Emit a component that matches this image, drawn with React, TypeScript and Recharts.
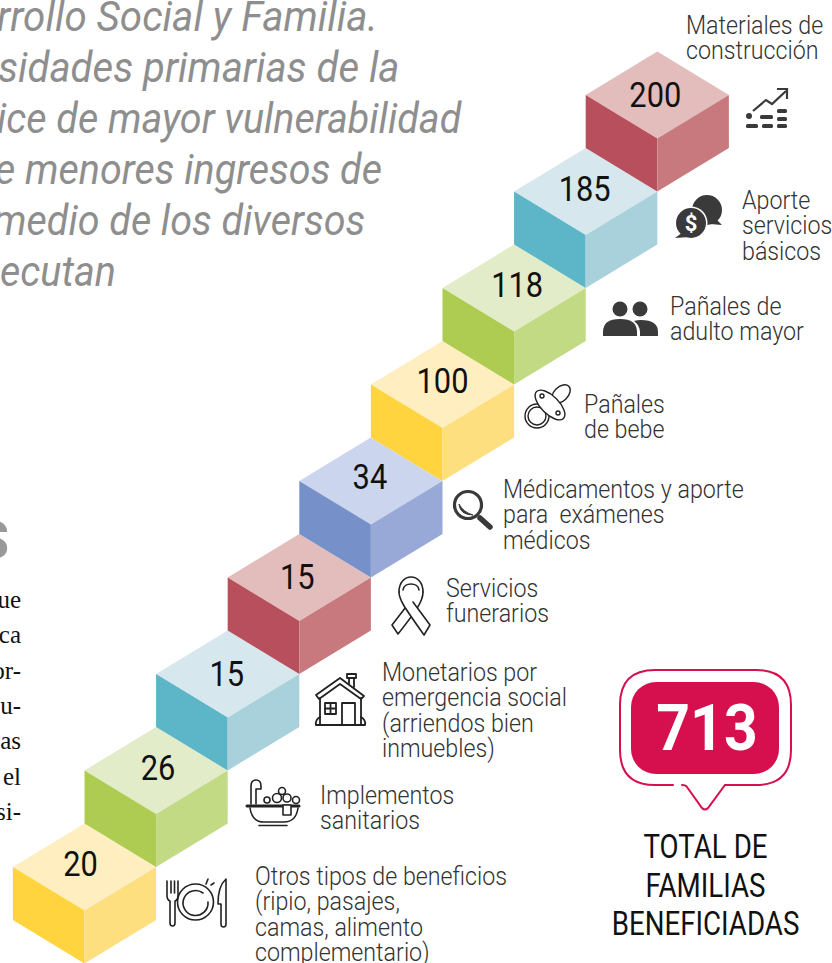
import React from 'react';
import { ScatterChart, Scatter, XAxis, YAxis } from 'recharts';

// bottom step first
const categories = [
  ['Otros tipos de beneficios', '(ripio, pasajes,', 'camas, alimento', 'complementario)'],
  ['Implementos', 'sanitarios'],
  ['Monetarios por', 'emergencia social', '(arriendos bien', 'inmuebles)'],
  ['Servicios', 'funerarios'],
  ['Médicamentos y aporte', 'para  exámenes', 'médicos'],
  ['Pañales', 'de bebe'],
  ['Pañales de', 'adulto mayor'],
  ['Aporte', 'servicios', 'básicos'],
  ['Materiales de', 'construcción'],
];
const values = [20, 26, 15, 15, 34, 100, 118, 185, 200];
const totalValue = '713';
const totalLabel = ['TOTAL DE', 'FAMILIAS', 'BENEFICIADAS'];

const headingLines = [
  'rrollo Social y Familia.',
  'sidades primarias de la',
  'ice de mayor vulnerabilidad',
  'e menores ingresos de',
  'medio de los diversos',
  'ecutan',
];
const bodyLineEnds = ['ue', 'ca', 'or-', 'u-', 'as', 'el', 'si-'];

const chartData = values.map((value, i) => ({ step: i, level: i, value, lines: categories[i] }));

const W = 832;
const H = 963;
const HALF_W = 71.6;
const HALF_H = 43.5;
const DEPTH = 53;

const yellow = { top: '#FEEEC0', left: '#FFD43F', right: '#FEDF7F' };
const green = { top: '#E2ECC8', left: '#AECC52', right: '#C3DA85' };
const teal = { top: '#D6E8EE', left: '#5CB6C8', right: '#A8D1DC' };
const red = { top: '#E3BCBC', left: '#B84F5D', right: '#C7797D' };
const blue = { top: '#CCD5EE', left: '#7690C9', right: '#98A9D7' };
const palette = [yellow, green, teal, red, blue, yellow, green, teal, red];

const numberDx = [-4, 2, -1, -2, -1, 0, 3, -1, -2];
const numberDy = [9, 10, 12, 12, 8, 9, 9, 10, 12];
const labelX = [255, 320, 382, 446, 503, 584, 670, 742, 686];
const labelY = [885, 804, 681, 597, 498, 413, 315, 209, 34];
const headingX = [-3, -2, -3, -5, -7, 0];
const headingSx = [0.96, 0.955, 0.94, 0.94, 0.94, 0.94];

const FONT = 'Roboto, sans-serif';
const INK = '#333333';
const ICON = '#3a3a3a';

function Squeezed({ x, y, sx = 0.93, anchor = 'start', children, ...rest }: any) {
  return (
    <text
      transform={`translate(${x} ${y}) scale(${sx} 1)`}
      textAnchor={anchor}
      fontFamily={FONT}
      style={{ whiteSpace: 'pre' }}
      {...rest}
    >
      {children}
    </text>
  );
}

function Cube(props: any) {
  const { cx, cy, payload } = props;
  const i = payload.step;
  const c = palette[i];
  const pts = (arr: number[][]) => arr.map((p) => p.join(',')).join(' ');
  return (
    <g>
      <polygon
        fill={c.top}
        points={pts([[cx - HALF_W, cy], [cx, cy - HALF_H], [cx + HALF_W, cy], [cx, cy + HALF_H]])}
      />
      <polygon
        fill={c.left}
        points={pts([[cx - HALF_W, cy], [cx, cy + HALF_H], [cx, cy + HALF_H + DEPTH], [cx - HALF_W, cy + DEPTH]])}
      />
      <polygon
        fill={c.right}
        points={pts([[cx + HALF_W, cy], [cx, cy + HALF_H], [cx, cy + HALF_H + DEPTH], [cx + HALF_W, cy + DEPTH]])}
      />
      <Squeezed x={cx + numberDx[i]} y={cy + numberDy[i]} anchor="middle" sx={0.88} fontSize={35} fill="#111">
        {payload.value}
      </Squeezed>
      {payload.lines.map((line: string, n: number) => (
        <Squeezed key={n} x={labelX[i]} y={labelY[i] + n * 25.3} fontSize={25} fontWeight={300} fill={INK}>
          {line}
        </Squeezed>
      ))}
    </g>
  );
}

function Icons() {
  const thin = { fill: 'none', stroke: '#222', strokeWidth: 1.6, strokeLinecap: 'round' as const, strokeLinejoin: 'round' as const };
  return (
    <g>
      {/* plate */}
      <g {...thin}>
        <path d="M167 881v14q0 5 3 6v22q0 3 2.5 3t2.5-3v-22q3-1 3-6v-14M171 881v12M174.500 881v12" />
        <circle cx={195.500} cy={902} r={18} />
        <path d="M203 893A12.500 12.500 0 1 0 208 902" />
        <path d="M206 884l2-5M211 885l3-2" />
        <path d="M226 879q-8 7-8 25h3v20q0 3 2.500 3t2.500-3z" />
      </g>
      {/* tub */}
      <g {...thin}>
        <path d="M251 804v-18q0-6 5-6t5 6v3h-5v15" />
        <circle cx={282} cy={791} r={3.500} />
        <circle cx={277} cy={798} r={4.500} />
        <circle cx={267} cy={800} r={3} />
        <circle cx={287} cy={798} r={4} />
        <circle cx={296} cy={800} r={3.500} />
        <path d="M247 806h52" strokeWidth={3} />
        <path d="M250 808q2 14 14 14h20q12 0 14-14M259 825.500h28" />
        <rect x={283} y={805} width={8} height={10} fill="#fff" />
      </g>
      {/* house */}
      <g {...thin} strokeWidth={1.8}>
        <path d="M316 695L340 678L364 696L361 699L340 684L319 699Z" />
        <path d="M320 698V725H361V698" />
        <path d="M342 725V703H355V725" />
        <rect x={325} y={703} width={11} height={11} />
        <path d="M330.500 703v11M325 708.500h11" />
        <path d="M347 674h9v4h-9zM349 678v6M354 678v9" />
        <path d="M320 717q-5 3-4 8h4M361 717q5 3 4 8h-4" />
      </g>
      {/* ribbon */}
      <g {...thin} fill="#fff">
        <path d="M423 592C423 601 417 610 398 634L392 625L409 603" />
        <path d="M399 592C399 600 405 608 424 635L430 625L413 602" />
        <path d="M399 592C399 572 423 572 423 592M403 590C404 582 418 582 419 590" fill="none" />
      </g>
      {/* magnifier */}
      <circle cx={468} cy={505} r={13.500} fill="none" stroke={ICON} strokeWidth={3.200} />
      <path d="M459 504q1 11 14 11q-10-3-14-11z" fill={ICON} stroke={ICON} strokeWidth={1} />
      <path d="M480 518L490 527" stroke={ICON} strokeWidth={5.500} strokeLinecap="round" />
      {/* pacifier */}
      <g {...thin} strokeWidth={1.4}>
        <circle cx={537} cy={416} r={12} />
        <circle cx={537} cy={416} r={9} />
        <ellipse cx={561} cy={394} rx={11} ry={7} fill="#fff" transform="rotate(-45 561 394)" />
        <ellipse cx={550} cy={405} rx={19} ry={9} fill="#fff" transform="rotate(45 550 405)" />
        <circle cx={542} cy={396} r={2} />
        <circle cx={558} cy={413} r={2} />
      </g>
      {/* people */}
      <g fill={ICON}>
        <circle cx={620} cy={309} r={7.500} />
        <circle cx={640} cy={309} r={7.500} />
        <path d="M603 336v-4q0-13 17-13t17 13v4z" />
        <path d="M640 336h18v-4q0-12-17-12q-4 0-7 1q6 5 6 11z" />
      </g>
      {/* chat with dollar */}
      <g fill={ICON}>
        <circle cx={707} cy={210} r={15} />
        <path d="M715 218L722 225L710 224z" />
        <circle cx={691} cy={223} r={16.500} fill="#fff" />
        <circle cx={691} cy={223} r={15} />
        <path d="M683 232L675 238L690 237z" />
        <text x={691} y={231} textAnchor="middle" fontFamily={FONT} fontWeight={700} fontSize={22} fill="#fff">$</text>
      </g>
      {/* growth */}
      <g fill="none" stroke={ICON} strokeWidth={2.200}>
        <path d="M753 111L766 100L772 104L786 91" />
        <path d="M777 89H787V99" />
      </g>
      <g fill={ICON}>
        <circle cx={749} cy={116} r={3} />
        <rect x={760} y={115} width={13} height={4} rx={1.500} />
        <rect x={777} y={109} width={10} height={4} rx={1.500} />
        <rect x={777} y={117} width={10} height={4} rx={1.500} />
        <rect x={746} y={124} width={12} height={4} rx={1.500} />
        <rect x={762} y={124} width={11} height={4} rx={1.500} />
        <rect x={777} y={124} width={10} height={4} rx={1.500} />
      </g>
    </g>
  );
}

function Surroundings() {
  return (
    <g>
      {headingLines.map((line, i) => (
        <Squeezed
          key={i}
          x={headingX[i]}
          y={31 + i * 51}
          sx={headingSx[i]}
          fontStyle="italic"
          fontSize={42}
          fill="#8e8e8e"
        >
          {line}
        </Squeezed>
      ))}
      <text x={9} y={558} textAnchor="end" fontFamily={FONT} fontWeight={700} fontSize={52} fill="#999">S</text>
      {bodyLineEnds.map((line, i) => (
        <text key={i} x={21} y={608 + i * 35.3} textAnchor="end" fontFamily="'Liberation Serif', serif" fontSize={25} fill="#111">
          {line}
        </text>
      ))}

      {/* total badge */}
      <path
        d="M673 785H655Q620 785 620 750V705Q620 670 655 670H756Q791 670 791 705V750Q791 785 756 785H725L708 808Q705 811 702 808L687 787Q686 785 682 785"
        fill="none"
        stroke="#D6104F"
        strokeWidth={2}
        strokeLinecap="round"
      />
      <rect x={631} y={682} width={148} height={92} rx={25} fill="#D6104F" />
      <Squeezed x={707} y={750} anchor="middle" sx={0.92} fontSize={64} fontWeight={700} fill="#fff">
        {totalValue}
      </Squeezed>
      {totalLabel.map((line, i) => (
        <Squeezed key={i} x={705.500} y={858 + i * 38.5} anchor="middle" sx={0.84} fontSize={33} fill="#111">
          {line}
        </Squeezed>
      ))}
    </g>
  );
}

export default function App() {
  return (
    <div style={{ position: 'absolute', left: 0, top: 0, width: W, height: H, background: '#fff', overflow: 'hidden' }}>
      <ScatterChart width={W} height={H} margin={{ top: 0, right: 0, bottom: 0, left: 0 }}>
        <XAxis type="number" dataKey="step" domain={[-1.18, 10.44]} hide />
        <YAxis type="number" dataKey="level" domain={[-0.995, 8.984]} hide />
        <Surroundings />
        <Scatter data={chartData} isAnimationActive={false} shape={(p: any) => <Cube {...p} />} />
        <Icons />
      </ScatterChart>
    </div>
  );
}
